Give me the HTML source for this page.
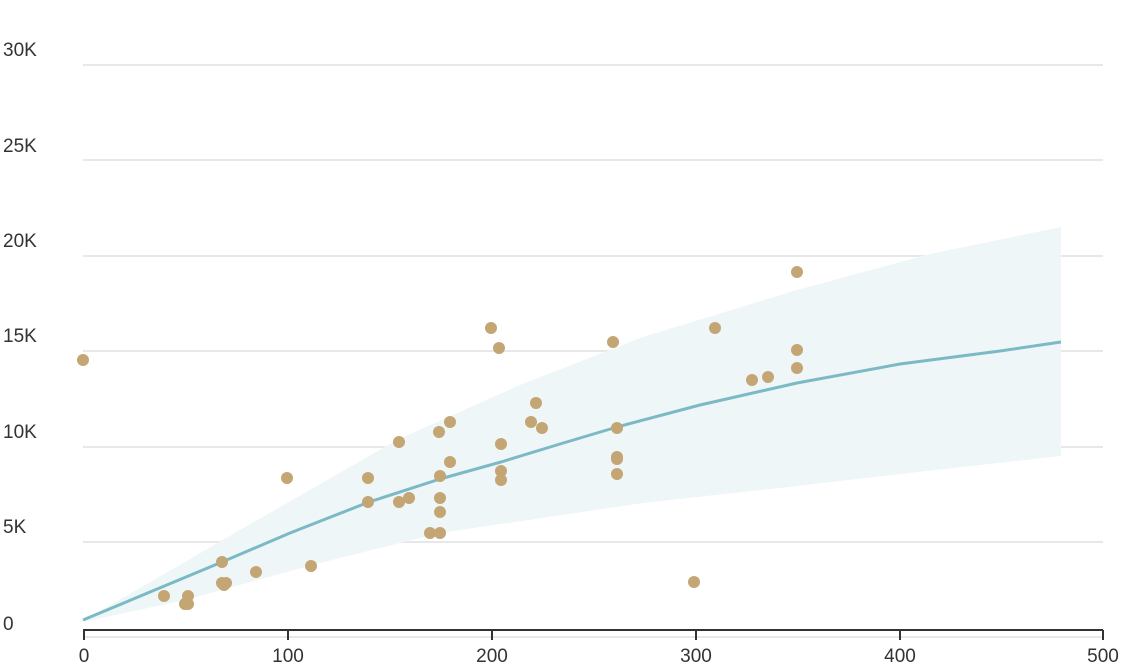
<!DOCTYPE html>
<html><head><style>body{margin:0;background:#fff}svg{display:block;font-family:"Liberation Sans",sans-serif}</style></head><body>
<svg width="1123" height="665" viewBox="0 0 1123 665">
<g stroke="#e8e8e8" stroke-width="2">
<line x1="83" x2="1103" y1="65" y2="65"/><line x1="83" x2="1103" y1="160" y2="160"/><line x1="83" x2="1103" y1="256" y2="256"/><line x1="83" x2="1103" y1="351" y2="351"/><line x1="83" x2="1103" y1="447" y2="447"/><line x1="83" x2="1103" y1="542" y2="542"/><line x1="83" x2="1103" y1="637" y2="637"/>
</g>
<g fill="#333" font-size="19">
<text x="3" y="56">30K</text><text x="3" y="152">25K</text><text x="3" y="247">20K</text><text x="3" y="342">15K</text><text x="3" y="438">10K</text><text x="3" y="533">5K</text><text x="3" y="630">0</text>
</g>
<polygon points="83,621 240,530 397,440 520,385 643,337 797,290 930,254 1061,227 1061,456 900,474 797,486 643,503 440,533 312,565 185,600 83,622" fill="#eef6f8"/>
<polyline points="83,620 150,592 222,562 290,533 369,502 440,479 501,462 560,444 617,427 700,405 797,383 900,364 1000,351 1061,342" fill="none" stroke="#7bbac4" stroke-width="3" stroke-linejoin="round"/>
<g fill="#c4a574">
<circle cx="83" cy="360" r="6"/><circle cx="164" cy="596" r="6"/><circle cx="185" cy="604" r="6"/><circle cx="188" cy="604" r="6"/><circle cx="188" cy="596" r="6"/><circle cx="186" cy="603" r="6"/><circle cx="222" cy="562" r="6"/><circle cx="222" cy="583" r="6"/><circle cx="224" cy="585" r="6"/><circle cx="226" cy="583" r="6"/><circle cx="256" cy="572" r="6"/><circle cx="287" cy="478" r="6"/><circle cx="311" cy="566" r="6"/><circle cx="368" cy="478" r="6"/><circle cx="368" cy="502" r="6"/><circle cx="399" cy="442" r="6"/><circle cx="399" cy="502" r="6"/><circle cx="409" cy="498" r="6"/><circle cx="430" cy="533" r="6"/><circle cx="440" cy="533" r="6"/><circle cx="439" cy="432" r="6"/><circle cx="440" cy="476" r="6"/><circle cx="440" cy="498" r="6"/><circle cx="440" cy="512" r="6"/><circle cx="450" cy="422" r="6"/><circle cx="450" cy="462" r="6"/><circle cx="491" cy="328" r="6"/><circle cx="499" cy="348" r="6"/><circle cx="501" cy="444" r="6"/><circle cx="501" cy="471" r="6"/><circle cx="501" cy="480" r="6"/><circle cx="531" cy="422" r="6"/><circle cx="536" cy="403" r="6"/><circle cx="542" cy="428" r="6"/><circle cx="613" cy="342" r="6"/><circle cx="617" cy="428" r="6"/><circle cx="617" cy="457" r="6"/><circle cx="617" cy="459" r="6"/><circle cx="617" cy="474" r="6"/><circle cx="694" cy="582" r="6"/><circle cx="715" cy="328" r="6"/><circle cx="752" cy="380" r="6"/><circle cx="768" cy="377" r="6"/><circle cx="797" cy="272" r="6"/><circle cx="797" cy="350" r="6"/><circle cx="797" cy="368" r="6"/>
</g>
<g stroke="#333" stroke-width="2">
<line x1="83" x2="1103" y1="630" y2="630"/>
<line x1="84" x2="84" y1="630" y2="640"/><line x1="288" x2="288" y1="630" y2="640"/><line x1="492" x2="492" y1="630" y2="640"/><line x1="696" x2="696" y1="630" y2="640"/><line x1="900" x2="900" y1="630" y2="640"/><line x1="1103" x2="1103" y1="630" y2="640"/>
</g>
<g fill="#333" font-size="19" text-anchor="middle">
<text x="84" y="662">0</text><text x="288" y="662">100</text><text x="492" y="662">200</text><text x="696" y="662">300</text><text x="900" y="662">400</text><text x="1103" y="662">500</text>
</g>
</svg>
</body></html>
